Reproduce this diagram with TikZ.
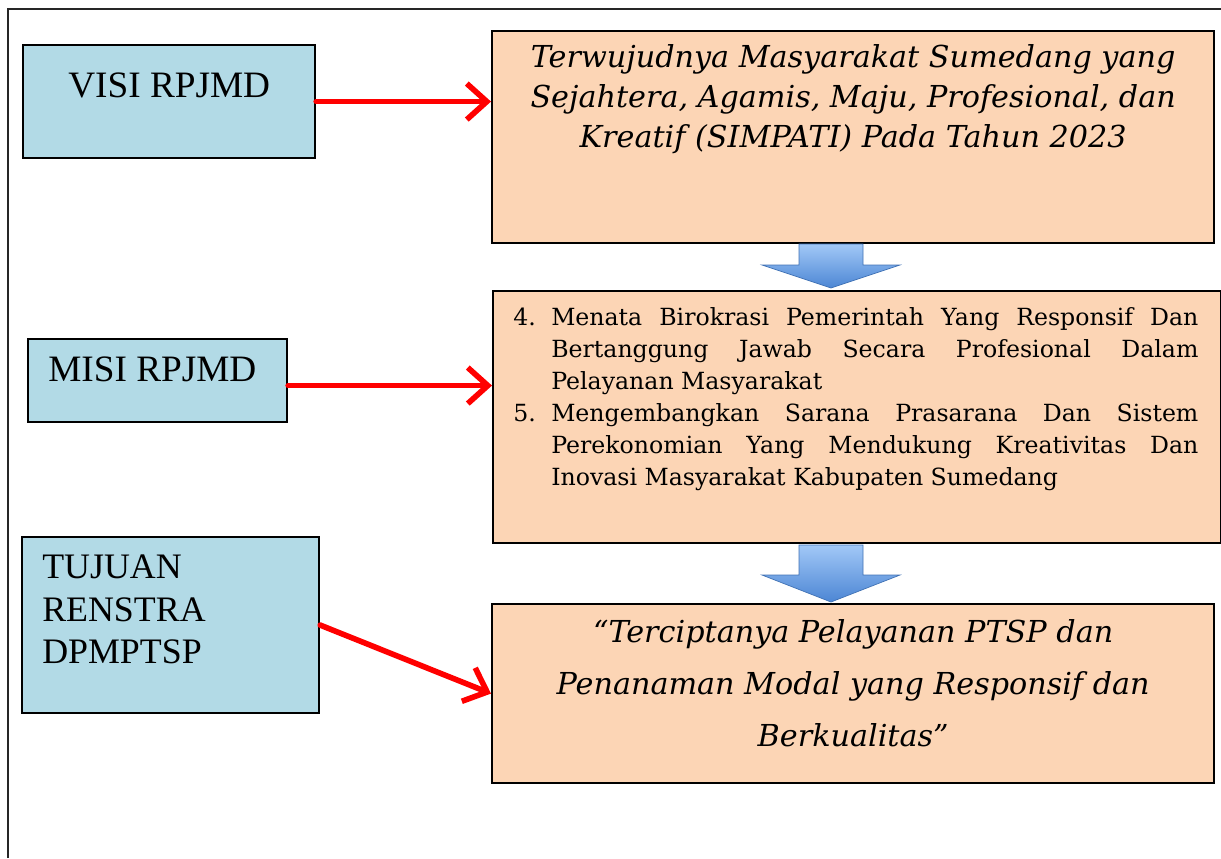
\documentclass[tikz,border=0pt]{standalone}
\usepackage{fontspec}
\setmainfont{DejaVu Serif}
\newfontfamily\capfont{Liberation Serif}
\usetikzlibrary{arrows.meta, positioning, calc}
\definecolor{skyfill}{RGB}{178,218,230}
\definecolor{peach}{RGB}{252,213,181}
\definecolor{arrtop}{RGB}{162,200,247}
\definecolor{arrbot}{RGB}{76,134,212}
\tikzset{
  sidebox/.style={rectangle, draw=black, line width=1.5pt, fill=skyfill,
                  anchor=north west, inner sep=0pt},
  mainbox/.style={rectangle, draw=black, line width=1.5pt, fill=peach,
                  anchor=north west, inner sep=0pt},
  sidetxt/.style={anchor=north west, inner sep=0pt, align=left,
                  font=\capfont\fontsize{26.5}{30}\selectfont},
  italtxt/.style={anchor=north, inner sep=0pt, align=center,
                  font=\itshape\fontsize{21.5}{28.4}\selectfont},
  redarr/.style={-{Straight Barb[length=0.5cm, width=0.9cm]}, red,
                 line width=4pt, line cap=round},
  downarr/.style={top color=arrtop, bottom color=arrbot,
                  draw=arrbot!85!black, line width=0.5pt},
  frame/.style={line width=1.4pt, draw=black!85},
}

\begin{document}
\begin{tikzpicture}[x=0.025cm, y=-0.025cm]
  \useasboundingbox (0,0) rectangle (1221,858);
  % outer frame
  \draw[frame] (8,858) -- (8,9) -- (1221,9);

  % left column
  \node[sidebox, minimum width=7.3cm, minimum height=2.825cm]   (visi)   at (22,44)  {};
  \node[sidebox, minimum width=6.475cm, minimum height=2.075cm] (misi)   at (27,338) {};
  \node[sidebox, minimum width=7.425cm, minimum height=4.4cm]   (tujuan) at (21,536) {};
  \node[sidetxt] (visitxt)   at ($(visi.north west)+(46,29)$)   {VISI RPJMD};
  \node[sidetxt] (misitxt)   at ($(misi.north west)+(21,19)$)   {MISI RPJMD};
  \node[sidetxt, font=\capfont\fontsize{25.5}{30}\selectfont] (tujuantxt)
    at ($(tujuan.north west)+(21,19)$) {TUJUAN\\RENSTRA\\DPMPTSP};

  % right column
  \node[mainbox, minimum width=18.05cm, minimum height=5.3cm]   (visibox)   at (491,30)  {};
  \node[mainbox, minimum width=18.2cm, minimum height=6.3cm]    (misibox)   at (492,290) {};
  \node[mainbox, minimum width=18.05cm, minimum height=4.475cm] (tujuanbox) at (491,603) {};

  \node[italtxt] (visitxt2) at ($(visibox.north)+(0,14)$)
    {Terwujudnya Masyarakat Sumedang yang\\
     Sejahtera, Agamis, Maju, Profesional, dan\\
     Kreatif (SIMPATI) Pada Tahun 2023};
  \node[anchor=north west, inner sep=0pt, text width=17.125cm, align=justify,
        font=\fontsize{16.8}{22.8}\selectfont] (misitxt2) at ($(misibox.north west)+(21,17)$)
    {\hangindent=0.95cm\hangafter=1\makebox[0.95cm][l]{4.}Menata Birokrasi Pemerintah Yang Responsif Dan\linebreak
     Bertanggung Jawab Secara Profesional Dalam\linebreak Pelayanan Masyarakat\par
     \hangindent=0.95cm\hangafter=1\makebox[0.95cm][l]{5.}Mengembangkan Sarana Prasarana Dan Sistem\linebreak
     Perekonomian Yang Mendukung Kreativitas Dan\linebreak Inovasi Masyarakat Kabupaten Sumedang\par};
  \node[italtxt, font=\itshape\fontsize{21.5}{37}\selectfont] (tujuantxt2) at ($(tujuanbox.north)+(0,16)$)
    {“Terciptanya Pelayanan PTSP dan\\
     Penanaman Modal yang Responsif dan\\
     Berkualitas”};

  % red connectors
  \draw[redarr] (visi.east) -- (visi.east -| visibox.west);
  \draw[redarr] ($(misi.east)+(0,5)$) -- ($(misi.east -| misibox.west)+(0,5)$);
  \draw[redarr] (tujuan.east) -- (tujuanbox.west);

  % blue down arrows
  \coordinate (tip1) at (831,288);
  \coordinate (tip2) at (831,602);
  \path[downarr] (tip1) -- ++(69,-23) -- ++(-37,0) -- ++(0,-21) -- ++(-64,0)
                 -- ++(0,21) -- ++(-37,0) -- cycle;
  \path[downarr] (tip2) -- ++(69,-27) -- ++(-37,0) -- ++(0,-30) -- ++(-64,0)
                 -- ++(0,30) -- ++(-37,0) -- cycle;
\end{tikzpicture}
\end{document}
